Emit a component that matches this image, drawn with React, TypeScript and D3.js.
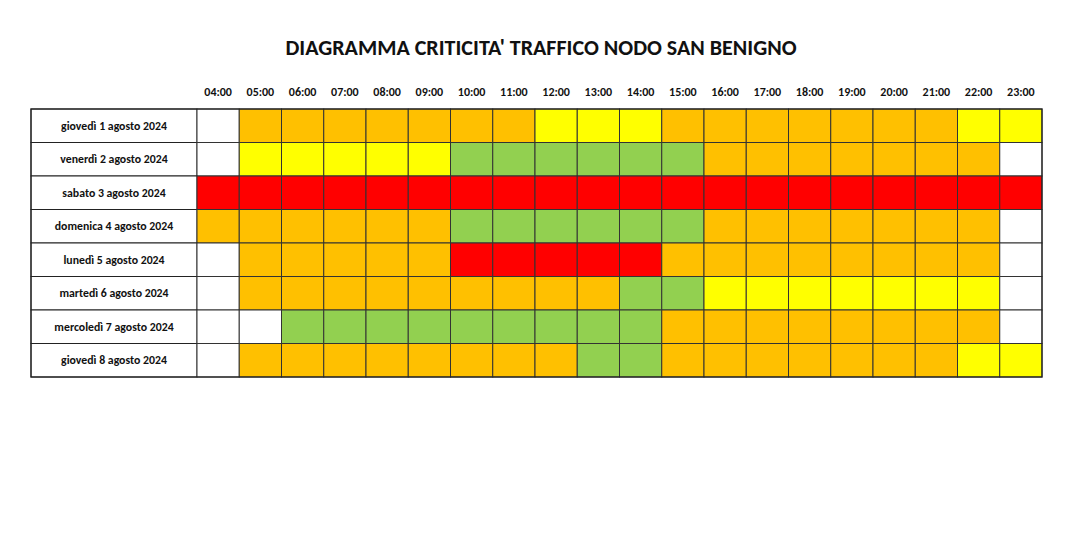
import React from "react";
import * as d3 from "d3";

const title = "DIAGRAMMA CRITICITA' TRAFFICO NODO SAN BENIGNO";
const hours = ["04:00","05:00","06:00","07:00","08:00","09:00","10:00","11:00","12:00","13:00","14:00","15:00","16:00","17:00","18:00","19:00","20:00","21:00","22:00","23:00"];
const days = [
  "giovedì 1 agosto 2024",
  "venerdì 2 agosto 2024",
  "sabato 3 agosto 2024",
  "domenica 4 agosto 2024",
  "lunedì 5 agosto 2024",
  "martedì 6 agosto 2024",
  "mercoledì 7 agosto 2024",
  "giovedì 8 agosto 2024",
];
// W = nessun dato, G = verde, Y = giallo, O = arancione, R = rosso
const levels = [
  "WOOOOOOOYYYOOOOOOOYY",
  "WYYYYYGGGGGGOOOOOOOW",
  "RRRRRRRRRRRRRRRRRRRR",
  "OOOOOOGGGGGGOOOOOOOW",
  "WOOOOORRRRROOOOOOOOW",
  "WOOOOOOOOOGGYYYYYYYW",
  "WWGGGGGGGGGOOOOOOOOW",
  "WOOOOOOOOGGOOOOOOOYY",
];
const levelKeys = ["W", "G", "Y", "O", "R"];
const levelColors = ["#FFFFFF", "#92D050", "#FFFF00", "#FFC000", "#FF0000"];

export default function App() {
  const W = 1068, H = 560;
  const labelX0 = 31, gridX0 = 197, gridX1 = 1042;
  const gridY0 = 109, gridY1 = 377;
  const x = d3.scaleBand<string>().domain(hours).range([gridX0, gridX1]);
  const y = d3.scaleBand<string>().domain(days).range([gridY0, gridY1]);
  const color = d3.scaleOrdinal<string, string>().domain(levelKeys).range(levelColors);
  const font = "Carlito, Calibri, Lato, 'Open Sans', sans-serif";
  return (
    <svg width={W} height={H} style={{ position: "absolute", left: 0, top: 0, background: "#fff" }}>
      <rect x={0} y={0} width={W} height={H} fill="#fff" />
      <text x={541} y={55} textAnchor="middle" fontFamily={font} fontWeight="bold" fontSize={22} fill="#111">{title}</text>
      {hours.map((h) => (
        <text key={h} x={x(h)! + x.bandwidth() / 2} y={96} textAnchor="middle" fontFamily={font} fontWeight="bold" fontSize={12} fill="#111">{h}</text>
      ))}
      {days.map((d, i) => (
        <g key={d}>
          <rect x={labelX0} y={y(d)!} width={gridX0 - labelX0} height={y.bandwidth()} fill="#fff" stroke="#222" strokeWidth={1} />
          <text x={(labelX0 + gridX0) / 2} y={y(d)! + y.bandwidth() / 2 + 4} textAnchor="middle" fontFamily={font} fontWeight="bold" fontSize={11.8} fill="#111">{d}</text>
          {hours.map((h, j) => (
            <rect key={h} x={x(h)!} y={y(d)!} width={x.bandwidth()} height={y.bandwidth()} fill={color(levels[i][j])} stroke="#333" strokeWidth={1} />
          ))}
        </g>
      ))}
      <rect x={labelX0} y={gridY0} width={gridX1 - labelX0} height={gridY1 - gridY0} fill="none" stroke="#222" strokeWidth={1.2} />
    </svg>
  );
}
